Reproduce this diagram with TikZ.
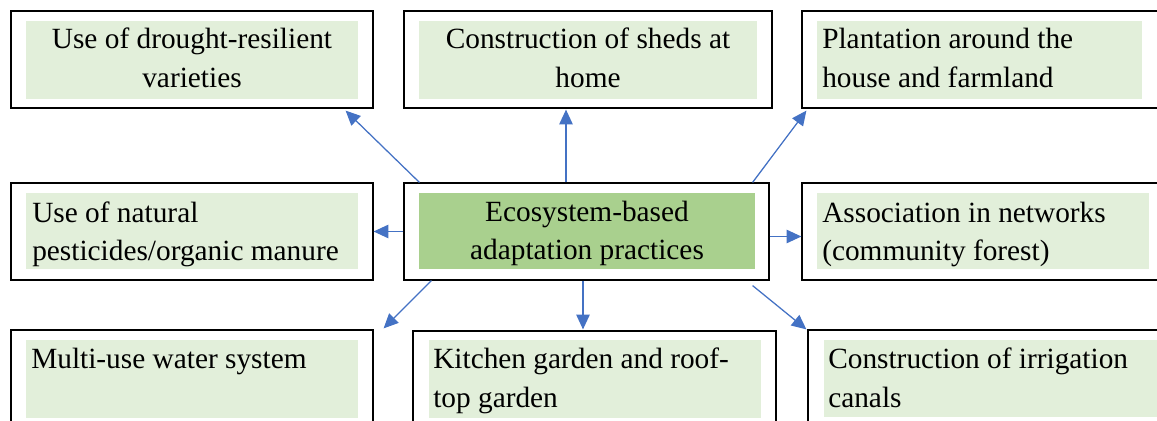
\documentclass[tikz,border=0pt]{standalone}
\usepackage{fontspec}
\setmainfont{Liberation Serif}
\usetikzlibrary{fit,calc,arrows.meta}
\definecolor{paleGreen}{HTML}{E2EFDA}
\definecolor{midGreen}{HTML}{A9D08E}
\definecolor{arrowBlue}{HTML}{4472C4}
\begin{document}
\begin{tikzpicture}[x=0.75pt,y=-0.75pt,
  frame/.style={draw=black,line width=0.9pt,inner sep=0pt,fit={#1}},
  panel/.style={fill=paleGreen,inner sep=0pt,fit={#1}},
  corepanel/.style={fill=midGreen,inner sep=0pt,fit={#1}},
  txt/.style={inner sep=0pt,font=\fontsize{22pt}{29pt}\selectfont},
  link/.style={draw=arrowBlue,line width=0.95pt,-{Triangle[length=11pt,width=10pt]}}]
\useasboundingbox (0,0) rectangle (1157,421);
\clip (0,0) rectangle (1157,421);

% outer frames
\node[frame={(11,11) (373,108)}]    (tl) {};
\node[frame={(404,11) (772,108)}]   (tm) {};
\node[frame={(802,11) (1170,108)}]  (tr) {};
\node[frame={(11,183) (373,280)}]   (ml) {};
\node[frame={(404,183) (769,280)}]  (c)  {};
\node[frame={(802,183) (1170,280)}] (mr) {};
\node[frame={(11,330) (373,440)}]   (bl) {};
\node[frame={(413,331) (776,440)}]  (bm) {};
\node[frame={(808,330) (1170,440)}] (br) {};

% shaded text panels
\node[panel={(26,21) (358,99)}]      (tlp) {};
\node[panel={(419,21) (757,99)}]     (tmp) {};
\node[panel={(817,21) (1142,99)}]    (trp) {};
\node[panel={(26,193) (358,269)}]    (mlp) {};
\node[corepanel={(419,193) (755,269)}] (cp) {};
\node[panel={(817,193) (1149,269)}]  (mrp) {};
\node[panel={(26,340) (358,418)}]    (blp) {};
\node[panel={(429,340) (761,418)}]   (bmp) {};
\node[panel={(824,340) (1170,417)}]  (brp) {};

% labels
\node[txt,anchor=base] (tl1) at (192,48) {Use of drought-resilient};
\node[txt,anchor=base] (tl2) at (192,87) {varieties};
\node[txt,anchor=base] (tm1) at (588,48) {Construction of sheds at};
\node[txt,anchor=base] (tm2) at (588,87) {home};
\node[txt,anchor=base west] (tr1) at (822,48) {Plantation around the};
\node[txt,anchor=base west] (tr2) at (822,87) {house and farmland};
\node[txt,anchor=base west] (ml1) at (32,222) {Use of natural};
\node[txt,anchor=base west] (ml2) at (32,260) {pesticides/organic manure};
\node[txt,anchor=base] (c1) at (587,221) {Ecosystem-based};
\node[txt,anchor=base] (c2) at (587,259) {adaptation practices};
\node[txt,anchor=base west] (mr1) at (822,222) {Association in networks};
\node[txt,anchor=base west] (mr2) at (822,260) {(community forest)};
\node[txt,anchor=base west] (bl1) at (31,368) {Multi-use water system};
\node[txt,anchor=base west] (bm1) at (433,368) {Kitchen garden and roof-};
\node[txt,anchor=base west] (bm2) at (433,407) {top garden};
\node[txt,anchor=base west] (br1) at (828,368) {Construction of irrigation};
\node[txt,anchor=base west] (br2) at (828,407) {canals};

% connectors from the central practice box
\draw[link] ($(c.north west)+(16,0)$) -- ($(tl.south east)+(-28,2)$);
\draw[link] ($(c.north)+(-20.5,0)$) -- ($(tm.south)+(-22,1)$);
\draw[link] ($(c.north east)+(-17,0)$) -- ($(tr.south west)+(5,2)$);
\draw[link] (c.west) -- (ml.east);
\draw[link] ($(c.east)+(0,5)$) -- ($(mr.west)+(0,5)$);
\draw[link] ($(c.south west)+(28,0)$) -- ($(bl.north east)+(10,-1)$);
\draw[link] ($(c.south)+(-3.5,0)$) -- ($(bm.north)+(-11.5,-1)$);
\draw[link] ($(c.south east)+(-17,5)$) -- ($(br.north west)+(-1,0)$);
\end{tikzpicture}
\end{document}
